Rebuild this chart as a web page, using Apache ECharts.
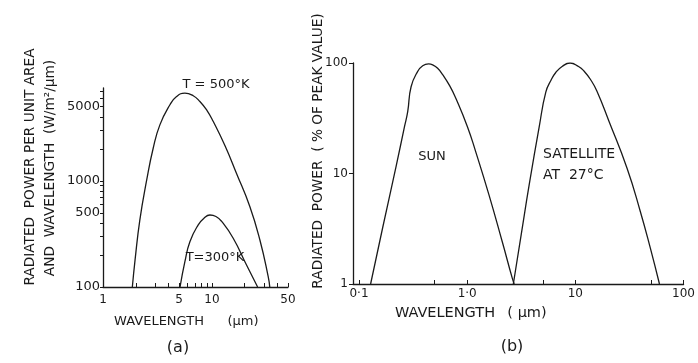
<!DOCTYPE html>
<html><head><meta charset="utf-8">
<script src="https://cdn.jsdelivr.net/npm/echarts@6/dist/echarts.min.js"></script>
<style>html,body{margin:0;padding:0;background:#fff}#c{width:698px;height:363px}</style>
</head><body><div id="c"></div>
<script>
// Panel (a): radiated power per unit area and wavelength (W/m²/μm)
const wl500 = [1.86, 1.97, 2.18, 2.52, 2.89, 3.33, 4.12, 4.74, 5.65, 6.74, 7.76, 9.0, 10.3, 13.2, 16.8, 22.3, 27.6, 32.9, 34];
const pw500 = [100, 180, 429, 1020, 2030, 3370, 5210, 6240, 6710, 6340, 5600, 4620, 3620, 2140, 1180, 573, 277, 125, 100];
const wl300 = [5.1, 5.65, 6.28, 7.49, 8.5, 9.59, 10.9, 12.3, 15.7, 20.8, 26.3];
const pw300 = [100, 173, 267, 385, 448, 477, 462, 415, 288, 161, 100];
// Panel (b): radiated power (% of peak value)
const wlSun = [0.128, 0.166, 0.221, 0.263, 0.282, 0.303, 0.349, 0.388, 0.44, 0.48, 0.533, 0.593, 0.69, 0.787, 1.007, 1.20, 1.59, 2.11, 2.61, 2.72];
const pctSun = [1, 3.28, 11.8, 26.4, 36.3, 61, 84, 94.5, 98, 96, 89.5, 78.4, 62, 47.7, 26.4, 15.7, 6.4, 2.41, 1.13, 1];
const wlSat = [2.67, 3.16, 3.74, 4.63, 5.33, 5.97, 6.59, 7.54, 8.93, 10.7, 12.0, 13.9, 15.8, 20.4, 30.1, 39.9, 49.4, 59.9];
const pctSat = [1, 2.81, 7.88, 26.4, 54.5, 70.2, 82, 93, 100, 93, 84.7, 70.2, 55.8, 29.9, 11.1, 4.51, 2.10, 1];
// Tick labels
const aXLabels = [1, 5, 10, 50];
const aXTicks = [1, 2, 3, 4, 5, 6, 7, 8, 9, 10, 20, 30, 40, 50];
const aYLabels = [100, 500, 1000, 5000];
const aYTicks = [100, 200, 300, 400, 500, 600, 700, 800, 900, 1000, 2000, 3000, 4000, 5000, 6000, 7000];
const bXValues = [0.1, 1, 10, 100];
const bXText = ['0·1', '1·0', '10', '100'];
const bXTicks = [0.1, 0.5, 1, 5, 10, 50, 100];
const bYLabels = [1, 10, 100];

const FONT = '"DejaVu Sans", sans-serif';
const INK = '#1a1a1a';
const axisLine = {show: true, lineStyle: {color: INK, width: 1.3}};
function lab(size) { return {color: INK, fontFamily: FONT, fontSize: size}; }
function plain(v) { return String(Math.round(v)); }

function pairs(xs, ys) { return xs.map((x, i) => [x, ys[i]]); }
function txt(x, y, text, opt) {
  opt = opt || {};
  return {type: 'text', x: x, y: y, rotation: opt.rot || 0, z: 100,
    style: {text: text, fill: INK, font: (opt.size || 12) + 'px ' + FONT,
      align: opt.align || 'center', verticalAlign: 'middle'}};
}
const curve = {type: 'line', smooth: 0.5, showSymbol: false, lineStyle: {color: INK, width: 1.3}};

const chart = echarts.init(document.getElementById('c'), null, {renderer: 'canvas'});
chart.setOption({
  backgroundColor: '#fff',
  animation: false,
  grid: [
    {left: 103, top: 88, width: 185, height: 199},
    {left: 353, top: 63, width: 332, height: 221}
  ],
  xAxis: [
    {type: 'log', gridIndex: 0, min: 1, max: 50, logBase: 10,
      axisLine: axisLine, splitLine: {show: false},
      axisTick: {show: true, inside: true, length: 4, customValues: aXTicks, lineStyle: {color: INK}},
      axisLabel: Object.assign({margin: 7, customValues: aXLabels, formatter: plain}, lab(12))},
    {type: 'log', gridIndex: 1, min: 0.088, max: 100, logBase: 10,
      axisLine: axisLine, splitLine: {show: false},
      axisTick: {show: true, inside: true, length: 4, customValues: bXTicks, lineStyle: {color: INK}},
      axisLabel: Object.assign({margin: 4, customValues: bXValues,
        formatter: function (v) { for (let i = 0; i < bXValues.length; i++) { if (Math.abs(v - bXValues[i]) < 1e-6 * bXValues[i]) return bXText[i]; } return ''; }}, lab(12))}
  ],
  yAxis: [
    {type: 'log', gridIndex: 0, min: 100, max: 7500, logBase: 10,
      axisLine: axisLine, splitLine: {show: false},
      axisTick: {show: true, inside: false, length: 3, customValues: aYTicks, lineStyle: {color: INK}},
      axisLabel: Object.assign({margin: 3, customValues: aYLabels, formatter: plain}, lab(13))},
    {type: 'log', gridIndex: 1, min: 1, max: 100, logBase: 10,
      axisLine: axisLine, splitLine: {show: false},
      axisTick: {show: true, inside: false, length: 4, customValues: bYLabels, lineStyle: {color: INK}},
      axisLabel: Object.assign({margin: 5, customValues: bYLabels, formatter: plain}, lab(12))}
  ],
  series: [
    Object.assign({name: 'T=500K', xAxisIndex: 0, yAxisIndex: 0, data: pairs(wl500, pw500)}, curve),
    Object.assign({name: 'T=300K', xAxisIndex: 0, yAxisIndex: 0, data: pairs(wl300, pw300)}, curve),
    Object.assign({name: 'SUN', xAxisIndex: 1, yAxisIndex: 1, data: pairs(wlSun, pctSun)}, curve),
    Object.assign({name: 'SATELLITE', xAxisIndex: 1, yAxisIndex: 1, data: pairs(wlSat, pctSat)}, curve)
  ],
  graphic: [
    txt(30, 167, 'RADIATED  POWER PER UNIT AREA', {rot: Math.PI / 2, size: 13.7}),
    txt(50, 168, 'AND  WAVELENGTH  (W/m²/μm)', {rot: Math.PI / 2, size: 13.7}),
    txt(318, 151, 'RADIATED  POWER  ( % OF PEAK VALUE)', {rot: Math.PI / 2, size: 13.7}),
    txt(159, 322, 'WAVELENGTH', {size: 13}),
    txt(243, 322, '(μm)', {size: 13}),
    txt(445, 313, 'WAVELENGTH', {size: 14.5}),
    txt(527, 313, '( μm)', {size: 14.5}),
    txt(178, 348, '(a)', {size: 16}),
    txt(512, 347, '(b)', {size: 16}),
    txt(216, 85, 'T = 500°K', {size: 13}),
    txt(215, 258, 'T=300°K', {size: 13}),
    txt(432, 157, 'SUN', {size: 13}),
    txt(543, 154, 'SATELLITE', {size: 14, align: 'left'}),
    txt(543, 175, 'AT  27°C', {size: 14, align: 'left'})
  ]
});
</script></body></html>
